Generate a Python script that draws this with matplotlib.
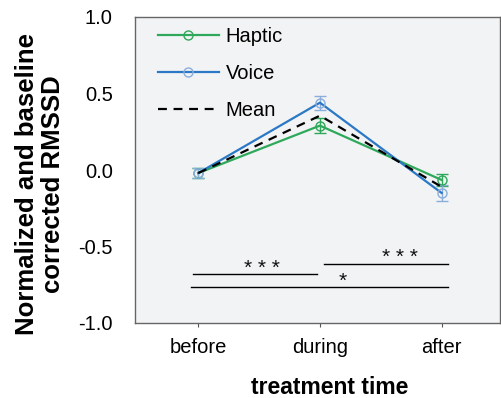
import matplotlib
matplotlib.use("Agg")
import matplotlib.pyplot as plt
from matplotlib.lines import Line2D

plt.rcParams['font.family'] = ['Liberation Sans', 'DejaVu Sans']

categories = ["before", "during", "after"]
haptic = [-0.02, 0.29, -0.065]
haptic_err = [0.03, 0.05, 0.04]
voice = [-0.02, 0.44, -0.15]
voice_err = [0.03, 0.045, 0.055]
mean = [-0.02, 0.355, -0.11]
yticks = [-1.0, -0.5, 0.0, 0.5, 1.0]

sig_lines = [(-0.04, 0.975, -0.68), (1.03, 2.05, -0.614), (-0.06, 2.05, -0.765)]
sig_labels = [("* * *", 0.52, -0.647), ("* * *", 1.656, -0.569), ("*", 1.19, -0.725)]

fig = plt.figure(figsize=(5.02, 3.98), dpi=100)
ax = fig.add_axes([135/502, 1-323/398, 365/502, 306/398])
ax.set_facecolor('#f2f3f4')

x = list(range(len(categories)))
green = '#2ea85a'
blue = '#2a78c6'
lblue = '#8aaedb'

ax.errorbar(x, haptic, yerr=haptic_err, color=green, lw=1.6, marker='o', ms=6.5,
            mfc='none', mec=green, mew=1.0, capsize=4.3, elinewidth=1.0, ecolor=green,
            zorder=3)
ax.errorbar(x, voice, yerr=voice_err, color=blue, lw=1.6, marker='o', ms=6.5,
            mfc='none', mec=lblue, mew=1.0, capsize=4.3, elinewidth=1.0, ecolor=lblue,
            zorder=3)
ax.plot(x, mean, color='black', lw=1.6, ls=(0, (4, 3)), zorder=4)

for x0, x1, y in sig_lines:
    ax.plot([x0, x1], [y, y], color='black', lw=1.0, zorder=2)
for t, tx, ty in sig_labels:
    ax.text(tx, ty, t, ha='center', va='center', fontsize=15, color='#111111')

ax.set_xlim(-0.52, 2.48)
ax.set_ylim(-1.0, 1.0)
ax.set_xticks(x)
ax.set_xticklabels(categories, fontsize=14.5)
ax.set_yticks(yticks)
ax.set_yticklabels([f"{v:.1f}" for v in yticks], fontsize=14.5)
ax.tick_params(axis='y', length=0, pad=16)
ax.tick_params(axis='x', length=3, pad=8, color='#555555')
for s in ax.spines.values():
    s.set_color('#666666')
    s.set_linewidth(1.0)

handles = [
    Line2D([], [], color=green, lw=1.6, marker='o', ms=6.5, mfc='none', mec=green, mew=1.0),
    Line2D([], [], color=blue, lw=1.6, marker='o', ms=6.5, mfc='none', mec=lblue, mew=1.0),
    Line2D([], [], color='black', lw=1.6, ls=(0, (4, 3))),
]
ax.legend(handles, ['Haptic', 'Voice', 'Mean'], loc='upper left',
          bbox_to_anchor=(0.025, 1.012), frameon=False,
          fontsize=14.5, handlelength=3.0, handletextpad=0.35,
          labelspacing=0.88, borderaxespad=0.3)

fig.text(40/502, 1-184/398, "Normalized and baseline\ncorrected RMSSD", rotation=90,
         ha='center', va='center', fontsize=18.5, fontweight='bold', multialignment='center',
         linespacing=1.1)
fig.text(330/502, 1-387/398, "treatment time", ha='center', va='center',
         fontsize=16.5, fontweight='bold')

fig.savefig('out.png', dpi=100)
